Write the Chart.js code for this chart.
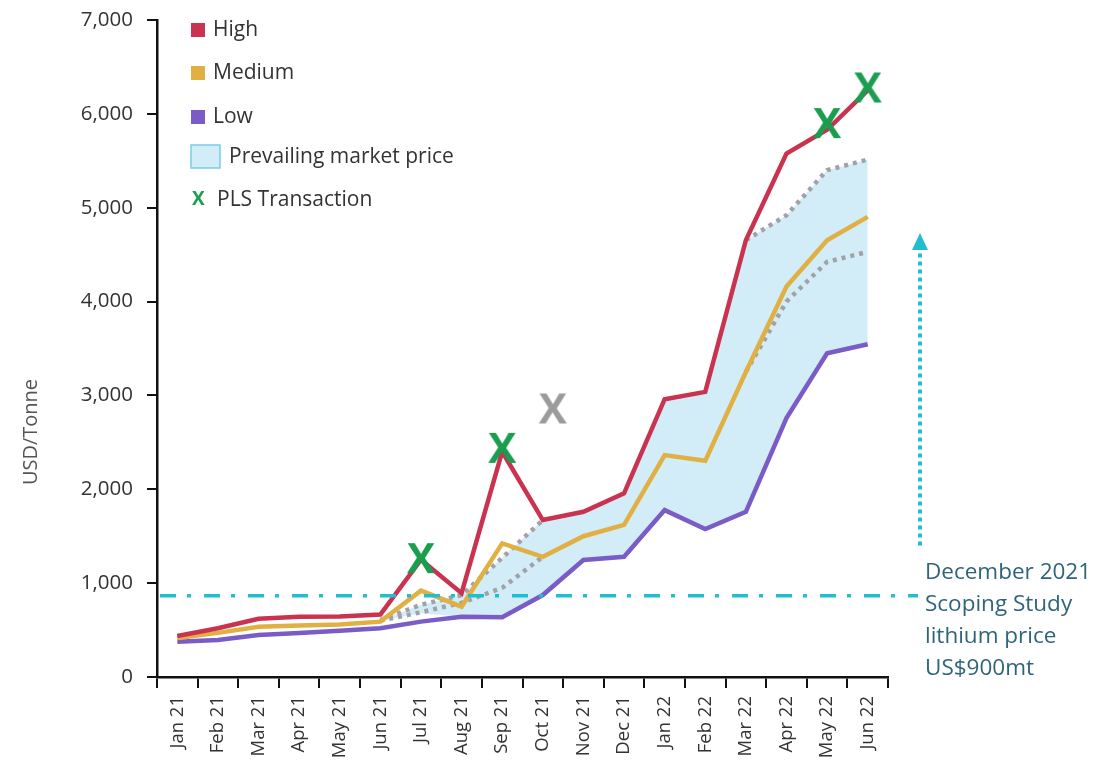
<!DOCTYPE html>
<html>
<head>
<meta charset="utf-8">
<script src="https://cdn.jsdelivr.net/npm/chart.js@4.4.1/dist/chart.umd.min.js"></script>
<style>
  body { margin: 0; background: #fff; }
  #wrap { width: 1101px; height: 767px; position: relative; }
</style>
</head>
<body>
<div id="wrap"><canvas id="grafico"></canvas></div>
<script>
// Dados do gráfico
const meses = ["Jan 21", "Feb 21", "Mar 21", "Apr 21", "May 21", "Jun 21", "Jul 21", "Aug 21", "Sep 21",
  "Oct 21", "Nov 21", "Dec 21", "Jan 22", "Feb 22", "Mar 22", "Apr 22", "May 22", "Jun 22"];
const high = [437, 520, 620, 642, 645, 665, 1250, 893, 2400, 1672, 1760, 1956, 2960, 3038, 4654, 5577, 5830, 6250];
const medium = [415, 470, 535, 550, 560, 590, 920, 750, 1424, 1281, 1500, 1620, 2364, 2303, 3250, 4160, 4654, 4902];
const low = [376, 394, 447, 470, 493, 519, 590, 643, 636, 873, 1246, 1281, 1778, 1576, 1760, 2758, 3450, 3546];
const upperDotted = [null, null, null, null, null, 607, 770, 873, 1270, 1672, null, null, null, null, 4654, 4920, 5400, 5513];
const lowerDotted = [null, null, null, null, null, 600, 690, 790, 950, 1281, null, null, null, null, 3250, 4000, 4423, 4530];
const bandTop = [null, null, null, null, null, 607, 770, 873, 1270, 1672, 1760, 1956, 2960, 3038, 4654, 4920, 5400, 5513];
const bandBottom = [null, null, null, null, null, 600, 680, 643, 636, 873, 1246, 1281, 1778, 1576, 1760, 2758, 3450, 3546];
const plsMeses = ["Jul 21", "Sep 21", "May 22", "Jun 22"];
const plsValores = [1245, 2420, 5880, 6260];
const outroMes = ["Oct 21"];
const outroValor = [2840];
const yTicks = [0, 1000, 2000, 3000, 4000, 5000, 6000, 7000];
const precoEstudo = 865;   // linha do Scoping Study
const setaDe = 1400, setaAte = 4730;
const notaLinhas = ["December 2021", "Scoping Study", "lithium price", "US$900mt"];

const FONTE = "'Open Sans', sans-serif";
const cores = { high: "#c9334f", medium: "#e1b043", low: "#7b5bc6", band: "#d2ecf8", dotted: "#a2a2a6",
  green: "#1a9d4f", grey: "#9b9b9b", teal: "#20bfcf", nota: "#2f6479" };

// Marcador "X" como imagem
function marcaX(cor, dx) {
  const c = document.createElement("canvas");
  c.width = 54; c.height = 38;
  const g = c.getContext("2d");
  g.fillStyle = cor;
  g.font = "bold 42px " + FONTE;
  g.textAlign = "center";
  g.textBaseline = "middle";
  g.fillText("X", 27 + dx, 20);
  return c;
}

// Legenda, título do eixo e anotações
const extras = {
  id: "extras",
  afterDraw(chart) {
    const ctx = chart.ctx;
    const y = chart.scales.y;
    const area = chart.chartArea;
    ctx.save();

    // título do eixo Y
    ctx.save();
    ctx.translate(31, 432);
    ctx.rotate(-Math.PI / 2);
    ctx.fillStyle = "#555";
    ctx.font = "20px " + FONTE;
    ctx.textAlign = "center";
    ctx.textBaseline = "middle";
    ctx.fillText("USD/Tonne", 0, 0);
    ctx.restore();

    // legenda
    ctx.font = "21px " + FONTE;
    ctx.textBaseline = "middle";
    const itens = [["High", cores.high, 30], ["Medium", cores.medium, 73], ["Low", cores.low, 117]];
    itens.forEach(([txt, cor, ly]) => {
      ctx.fillStyle = cor;
      ctx.fillRect(191, ly - 7, 14, 14);
      ctx.fillStyle = "#333";
      ctx.fillText(txt, 213, ly);
    });
    ctx.fillStyle = cores.band;
    ctx.fillRect(191, 145, 29, 23);
    ctx.strokeStyle = "#7ccbe6";
    ctx.lineWidth = 1.5;
    ctx.strokeRect(191, 145, 29, 23);
    ctx.fillStyle = "#333";
    ctx.fillText("Prevailing market price", 229, 157);
    ctx.fillStyle = cores.green;
    ctx.font = "bold 19px " + FONTE;
    ctx.fillText("X", 192, 200);
    ctx.fillStyle = "#333";
    ctx.font = "21px " + FONTE;
    ctx.fillText("PLS Transaction", 217, 200);

    // linha tracejada do preço do estudo
    const py = y.getPixelForValue(precoEstudo);
    ctx.strokeStyle = cores.teal;
    ctx.lineWidth = 3.5;
    ctx.setLineDash([16, 11, 4, 13]);
    ctx.beginPath();
    ctx.moveTo(area.left + 3, py);
    ctx.lineTo(area.right + 30, py);
    ctx.stroke();

    // seta pontilhada
    const sx = area.right + 32;
    const y1 = y.getPixelForValue(setaDe);
    const y2 = y.getPixelForValue(setaAte);
    ctx.setLineDash([4, 4]);
    ctx.lineWidth = 4;
    ctx.beginPath();
    ctx.moveTo(sx, y1);
    ctx.lineTo(sx, y2 + 18);
    ctx.stroke();
    ctx.setLineDash([]);
    ctx.fillStyle = cores.teal;
    ctx.beginPath();
    ctx.moveTo(sx, y2);
    ctx.lineTo(sx - 8, y2 + 17);
    ctx.lineTo(sx + 8, y2 + 17);
    ctx.closePath();
    ctx.fill();

    // nota
    ctx.fillStyle = cores.nota;
    ctx.font = "22.5px " + FONTE;
    ctx.textAlign = "left";
    notaLinhas.forEach((l, i) => ctx.fillText(l, area.right + 37, 573 + i * 32));
    ctx.restore();
  }
};

const semBorda = { borderWidth: 0, pointRadius: 0 };

new Chart(document.getElementById("grafico"), {
  type: "line",
  data: {
    labels: meses,
    datasets: [
      { label: "band", data: bandTop, ...semBorda, fill: 1, backgroundColor: cores.band, order: 6 },
      { label: "bandBottom", data: bandBottom, ...semBorda, fill: false, order: 7 },
      { label: "upper", data: upperDotted, borderColor: cores.dotted, borderWidth: 4.5, borderDash: [4, 5], pointRadius: 0, order: 5 },
      { label: "lower", data: lowerDotted, borderColor: cores.dotted, borderWidth: 4.5, borderDash: [4, 5], pointRadius: 0, order: 5 },
      { label: "Low", data: low, borderColor: cores.low, borderWidth: 4.5, pointRadius: 0, order: 4 },
      { label: "Medium", data: medium, borderColor: cores.medium, borderWidth: 4.5, pointRadius: 0, order: 3 },
      { label: "High", data: high, borderColor: cores.high, borderWidth: 4.5, pointRadius: 0, order: 2 },
      { label: "PLS Transaction", data: plsMeses.map((m, i) => ({ x: m, y: plsValores[i] })),
        showLine: false, pointStyle: marcaX(cores.green, 0), order: 1 },
      { label: "outro", data: outroMes.map((m, i) => ({ x: m, y: outroValor[i] })),
        showLine: false, pointStyle: marcaX(cores.grey, 10), order: 1 }
    ]
  },
  options: {
    responsive: true,
    maintainAspectRatio: false,
    animation: false,
    layout: { padding: { top: 20, right: 213, left: 0, bottom: 0 } },
    elements: { line: { tension: 0, borderCapStyle: "butt", borderJoinStyle: "miter" } },
    plugins: { legend: { display: false }, tooltip: { enabled: false } },
    scales: {
      x: {
        offset: true,
        grid: { offset: true, drawOnChartArea: false, tickLength: 11, color: "#111", lineWidth: 2 },
        border: { color: "#111", width: 2.5 },
        ticks: { autoSkip: false, minRotation: 90, maxRotation: 90, padding: 8, color: "#333", font: { family: FONTE, size: 18.5 } },
        afterFit(scale) { scale.height = 90; scale.paddingLeft = 0; scale.paddingRight = 0; }
      },
      y: {
        min: 0, max: 7000,
        afterBuildTicks(scale) { scale.ticks = yTicks.map(v => ({ value: v })); },
        grid: { drawOnChartArea: false, tickLength: 10, color: "#111", lineWidth: 2 },
        border: { color: "#111", width: 2.5 },
        ticks: { padding: 14, color: "#333", font: { family: FONTE, size: 20.5 },
          callback: v => v.toLocaleString("en-US") },
        afterFit(scale) { scale.width = 157; scale.paddingTop = 0; scale.paddingBottom = 0; }
      }
    }
  },
  plugins: [extras]
});
</script>
</body>
</html>
